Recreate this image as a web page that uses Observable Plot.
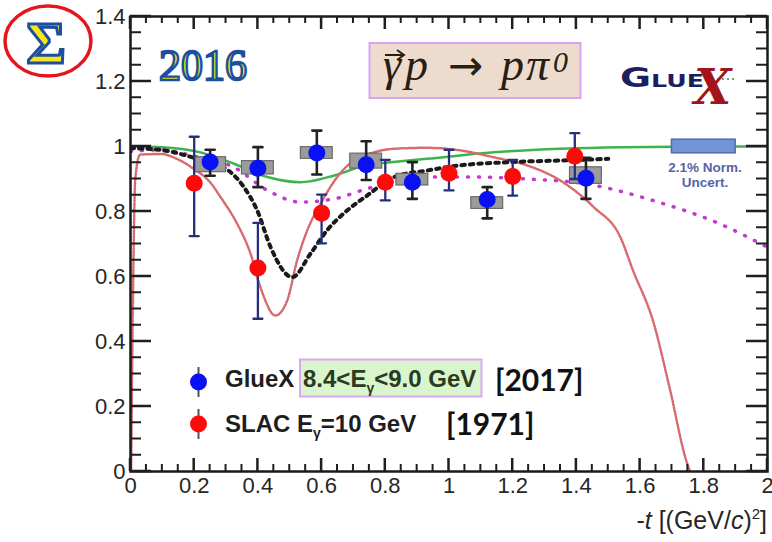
<!DOCTYPE html>
<html><head><meta charset="utf-8">
<script src="https://cdn.jsdelivr.net/npm/d3@7"></script>
<script src="https://cdn.jsdelivr.net/npm/@observablehq/plot@0.6"></script>
<style>
body{margin:0;background:#fff;}
#chart{position:relative;width:772px;height:542px;}
</style></head><body><div id="chart"></div>
<script>
// ---- GlueX 8.4<Eγ<9.0 GeV [2017] ----
const gluexT     = [0.25, 0.40, 0.585, 0.74, 0.885, 1.12, 1.43];
const gluexSigma = [0.952, 0.933, 0.980, 0.944, 0.890, 0.837, 0.902];
const gluexStatLo= [0.910, 0.875, 0.914, 0.897, 0.839, 0.779, 0.839];
const gluexStatHi= [0.990, 0.998, 1.049, 1.016, 0.952, 0.875, 0.965];
const gluexSysLo = [0.921, 0.914, 0.962, 0.932, 0.880, 0.808, 0.885];
const gluexSysHi = [0.967, 0.955, 0.998, 0.978, 0.916, 0.844, 0.936];
const sysHalfWidth = 0.05;
// ---- SLAC Eγ=10 GeV [1971] ----
const slacT      = [0.20, 0.40, 0.60, 0.80, 1.00, 1.20, 1.395];
const slacSigma  = [0.887, 0.626, 0.795, 0.890, 0.918, 0.908, 0.970];
const slacLo     = [0.724, 0.470, 0.702, 0.834, 0.865, 0.849, 0.900];
const slacHi     = [1.030, 0.765, 0.852, 0.959, 0.990, 0.959, 1.041];
// ---- normalisation uncertainty ----
const normUncert = 0.021;
const normRange  = [1.70, 1.90];
// ---- model curves ----
const greenT = [0, 0.1, 0.22, 0.325, 0.43, 0.534, 0.64, 0.743, 0.8, 0.93, 1.14, 1.35, 1.54, 1.8, 2.0];
const greenS = [1.0, 0.998, 0.982, 0.947, 0.906, 0.89, 0.911, 0.944, 0.95, 0.962, 0.982, 0.993, 0.998, 1.0, 1.0];
const blackT = [0, 0.105, 0.2, 0.293, 0.356, 0.398, 0.44, 0.508, 0.565, 0.617, 0.68, 0.743, 0.827, 0.93, 1.036, 1.193, 1.35, 1.5];
const blackS = [0.995, 0.988, 0.965, 0.936, 0.875, 0.803, 0.69, 0.598, 0.67, 0.742, 0.803, 0.849, 0.906, 0.926, 0.942, 0.952, 0.957, 0.962];
const magT   = [0, 0.1, 0.2, 0.325, 0.43, 0.534, 0.64, 0.743, 0.93, 1.07, 1.245, 1.43, 1.64, 1.85, 2.0];
const magS   = [0.985, 0.99, 0.97, 0.936, 0.865, 0.829, 0.839, 0.87, 0.906, 0.906, 0.9, 0.885, 0.834, 0.762, 0.69];
const redT   = [0.002, 0.008, 0.015, 0.03, 0.094, 0.15, 0.2, 0.25, 0.283, 0.335, 0.377, 0.408, 0.455, 0.492, 0.523, 0.555, 0.597, 0.649, 0.701, 0.764, 0.827, 0.93, 1.036, 1.14, 1.245, 1.35, 1.455, 1.538, 1.578, 1.641, 1.693, 1.746, 1.757];
const redS   = [0.0, 0.55, 0.9, 0.975, 0.977, 0.96, 0.93, 0.89, 0.844, 0.762, 0.67, 0.567, 0.48, 0.526, 0.649, 0.742, 0.824, 0.906, 0.957, 0.982, 0.993, 0.996, 0.988, 0.967, 0.942, 0.895, 0.813, 0.721, 0.618, 0.462, 0.256, 0.03, 0.0];
// ---- axes ----
const xDomain = [0, 2];
const yDomain = [0, 1.4];
const xTicks = [0, 0.2, 0.4, 0.6, 0.8, 1, 1.2, 1.4, 1.6, 1.8, 2];
const yTicks = [0, 0.2, 0.4, 0.6, 0.8, 1, 1.2, 1.4];
const minorStep = 0.05;

const gluex = gluexT.map((t, i) => ({t, s: gluexSigma[i], lo: gluexStatLo[i], hi: gluexStatHi[i], sLo: gluexSysLo[i], sHi: gluexSysHi[i]}));
const slac = slacT.map((t, i) => ({t, s: slacSigma[i], lo: slacLo[i], hi: slacHi[i]}));
const toPts = (T, S) => T.map((t, i) => ({t, s: S[i]}));
const xMinor = d3.range(0, 41).filter(i => i % 4 !== 0).map(i => i * minorStep);
const yMinor = d3.range(0, 29).filter(i => i % 4 !== 0).map(i => i * minorStep);
const norm = [{x1: normRange[0], x2: normRange[1], y1: 1 - normUncert, y2: 1 + normUncert}];

const cap = {draw(ctx, l) { ctx.moveTo(-l / 2, 0); ctx.lineTo(l / 2, 0); }};
const capMarks = (data, color, w) => [
  Plot.ruleX(data, {x: "t", y1: "lo", y2: "hi", stroke: color, strokeWidth: w}),
  Plot.vector(data, {x: "t", y: "lo", length: 9, shape: cap, anchor: "start", stroke: color, strokeWidth: w}),
  Plot.vector(data, {x: "t", y: "hi", length: 9, shape: cap, anchor: "start", stroke: color, strokeWidth: w})
];
const tickCol = "#1e1e1e";

const plot = Plot.plot({
  width: 772, height: 542,
  marginLeft: 130, marginRight: 5, marginTop: 16, marginBottom: 71,
  x: {domain: xDomain},
  y: {domain: yDomain},
  style: {fontFamily: "'Liberation Sans', Arial, sans-serif", fontSize: "22px", color: "#262626", background: "#fff", overflow: "visible"},
  marks: [
    Plot.line(toPts(greenT, greenS), {x: "t", y: "s", stroke: "#3cb44b", strokeWidth: 2.5, curve: "monotone-x", clip: true}),
    Plot.line(toPts(magT, magS), {x: "t", y: "s", stroke: "#c03ccc", strokeWidth: 3.5, strokeDasharray: "1,10", strokeLinecap: "round", curve: "monotone-x", clip: true}),
    Plot.line(toPts(redT, redS), {x: "t", y: "s", stroke: "#d86a6e", strokeWidth: 2.5, strokeDasharray: "1.2,1.8", curve: "monotone-x", clip: true}),
    Plot.line(toPts(blackT, blackS), {x: "t", y: "s", stroke: "#1a1a1a", strokeWidth: 4, strokeDasharray: "3.5,5", curve: "monotone-x", clip: true}),
    Plot.rect(norm, {x1: "x1", x2: "x2", y1: "y1", y2: "y2", fill: "#7394d2", stroke: "#4d6db3", strokeWidth: 1.5}),
    Plot.rect(gluex, {x1: d => d.t - sysHalfWidth, x2: d => d.t + sysHalfWidth, y1: "sLo", y2: "sHi", fill: "#9b9b9b", stroke: "#6a6a6a", strokeWidth: 1.2}),
    ...capMarks(slac, "#252f7a", 2.3),
    ...capMarks(gluex, "#222", 2.6),
    Plot.dot(gluex, {x: "t", y: "s", r: 8.5, fill: "#0a10f5"}),
    Plot.dot(slac, {x: "t", y: "s", r: 8.5, fill: "#fe0a0a"}),
    Plot.frame({stroke: "#1a1a1a", strokeWidth: 2.5}),
    Plot.axisY(yTicks, {anchor: "left", tickSize: 0, tickPadding: 5, tickFormat: d => String(d), fontSize: 22, fill: "#262626", label: null}),
    Plot.axisX(xTicks, {anchor: "bottom", tickSize: 0, tickPadding: 6, tickFormat: d => String(d), fontSize: 22, fill: "#262626", label: null})
  ]
});

// inward-pointing ticks on all four sides, placed through Plot's own scales
const sx = plot.scale("x"), sy = plot.scale("y");
const X0 = sx.apply(xDomain[0]), X1 = sx.apply(xDomain[1]);
const Y0 = sy.apply(yDomain[0]), Y1 = sy.apply(yDomain[1]);
const tg = d3.select(plot).append("g").attr("class", "inner-ticks").attr("stroke", tickCol).attr("fill", "none");
for (const [vals, len, w] of [[yTicks, 21, 2.5], [yMinor, 11, 2]]) {
  for (const v of vals) {
    const y = sy.apply(v);
    tg.append("line").attr("x1", X0).attr("x2", X0 + len).attr("y1", y).attr("y2", y).attr("stroke-width", w);
    tg.append("line").attr("x1", X1).attr("x2", X1 - len).attr("y1", y).attr("y2", y).attr("stroke-width", w);
  }
}
for (const [vals, len, w] of [[xTicks, 13, 2.5], [xMinor, 7, 2]]) {
  for (const v of vals) {
    const x = sx.apply(v);
    tg.append("line").attr("x1", x).attr("x2", x).attr("y1", Y0).attr("y2", Y0 - len).attr("stroke-width", w);
    tg.append("line").attr("x1", x).attr("x2", x).attr("y1", Y1).attr("y2", Y1 + len).attr("stroke-width", w);
  }
}

const overlay = `
<ellipse cx="48" cy="41" rx="43" ry="35" fill="none" stroke="#e3161d" stroke-width="3.5"/>
<text x="46" y="63" text-anchor="middle" font-family="Liberation Serif" font-weight="bold" font-size="60" fill="#f7e51e" stroke="#1c4fa0" stroke-width="3">Σ</text>
<text x="159" y="80" text-anchor="start" font-family="Liberation Serif" font-size="44" fill="#f7e51e" stroke="#1c4fa0" stroke-width="2.4">2016</text>
<rect x="369.5" y="43" width="211" height="55" fill="#eddccd" stroke="#d9a3f2" stroke-width="2"/>
<text y="80" text-anchor="start" font-family="Liberation Serif" font-style="italic" font-size="46" fill="#2a1e14"><tspan x="383">γ</tspan><tspan x="405">p</tspan><tspan x="448" font-family="DejaVu Sans" font-style="normal" font-size="42">→</tspan><tspan x="501">p</tspan><tspan x="526">π</tspan><tspan x="553" y="72" font-size="30">0</tspan></text>
<path d="M385,55 H403 M397,50 L404,55 L397,60" fill="none" stroke="#2a1e14" stroke-width="2"/>
<text x="620" y="87" text-anchor="start" font-family="DejaVu Sans" font-weight="bold" fill="#1b1f5e" textLength="84" lengthAdjust="spacingAndGlyphs"><tspan font-size="27">G</tspan><tspan font-size="18">LUE</tspan></text>
<path d="M712,79 h2 M717,79 h2 M722,79 h2 M727,79 h2 M732,79 h2" stroke="#3a8a3a" stroke-width="1.5"/>
<text x="694" y="104" text-anchor="start" font-family="DejaVu Serif" font-style="italic" font-weight="bold" font-size="48" fill="#a3141a">X</text>
<text x="705" y="172" text-anchor="middle" font-family="Liberation Sans" font-weight="bold" font-size="13.5" fill="#5563a8">2.1% Norm.</text>
<text x="705" y="187" text-anchor="middle" font-family="Liberation Sans" font-weight="bold" font-size="13.5" fill="#5563a8">Uncert.</text>
<line x1="198.5" y1="367" x2="198.5" y2="397" stroke="#555" stroke-width="2"/>
<circle cx="198.5" cy="382" r="8.5" fill="#0a10f5"/>
<line x1="198.5" y1="409" x2="198.5" y2="439" stroke="#555" stroke-width="2"/>
<circle cx="198.5" cy="424" r="8.5" fill="#fe0a0a"/>
<text x="225" y="387" text-anchor="start" font-family="Liberation Sans" font-weight="bold" font-size="24" fill="#1e1e1e">GlueX</text>
<rect x="300" y="359.5" width="181.5" height="37" fill="#d9f5cc" stroke="#dba8f3" stroke-width="2"/>
<text x="303" y="387" text-anchor="start" font-family="Liberation Sans" font-weight="bold" font-size="24" fill="#2b3a22">8.4&lt;E<tspan font-size="14" dy="6">γ</tspan><tspan dy="-6">&lt;9.0 GeV</tspan></text>
<text x="495" y="391" text-anchor="start" font-family="Lato" font-weight="bold" font-size="30" fill="#111">[2017]</text>
<text x="225" y="432" text-anchor="start" font-family="Liberation Sans" font-weight="bold" font-size="24" fill="#1e1e1e">SLAC E<tspan font-size="14" dy="6">γ</tspan><tspan dy="-6">=10 GeV</tspan></text>
<text x="446" y="435" text-anchor="start" font-family="Lato" font-weight="bold" font-size="30" fill="#111">[1971]</text>
<text x="767" y="529" text-anchor="end" font-family="Liberation Sans" font-size="25" fill="#262626">-<tspan font-style="italic">t</tspan> [(GeV/<tspan font-style="italic">c</tspan>)<tspan font-size="15" dy="-10">2</tspan><tspan dy="10">]</tspan></text>
`;
const g = d3.select(plot).append("g").attr("class", "annotations");
g.html(overlay);
document.getElementById("chart").appendChild(plot);
</script>
</body></html>
